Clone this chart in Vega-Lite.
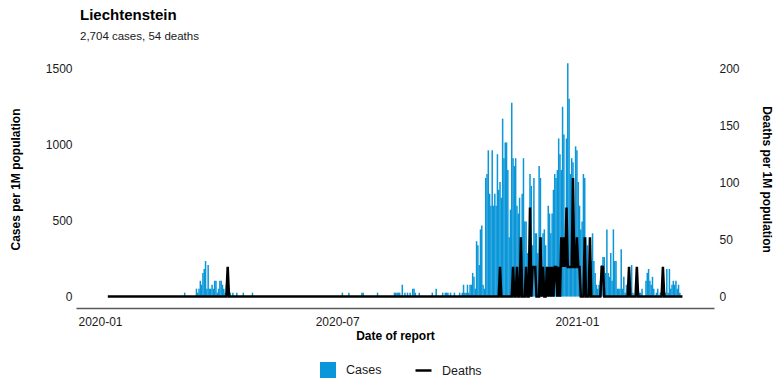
{
  "$schema": "https://vega.github.io/schema/vega-lite/v6.json",
  "width": 638,
  "height": 258,
  "autosize": {"type": "none"},
  "padding": {"left": 76, "top": 50, "right": 70, "bottom": 84},
  "background": "white",
  "title": {
    "text": "Liechtenstein",
    "subtitle": "2,704 cases, 54 deaths",
    "anchor": "start",
    "frame": "group",
    "dx": 4,
    "offset": 8,
    "fontSize": 15,
    "fontWeight": "bold",
    "color": "#000000",
    "subtitleFontSize": 11.5,
    "subtitleColor": "#1a1a1a",
    "subtitlePadding": 8
  },
  "datasets": {
    "cases": [
      {"date":"2020-03-06","cases":26.1},{"date":"2020-03-15","cases":52.1},{"date":"2020-03-16","cases":26.1},{"date":"2020-03-17","cases":52.1},{"date":"2020-03-18","cases":104.2},{"date":"2020-03-19","cases":78.2},{"date":"2020-03-20","cases":156.4},{"date":"2020-03-21","cases":182.4},{"date":"2020-03-22","cases":234.5},{"date":"2020-03-23","cases":52.1},{"date":"2020-03-24","cases":208.5},{"date":"2020-03-25","cases":52.1},{"date":"2020-03-26","cases":52.1},{"date":"2020-03-27","cases":78.2},{"date":"2020-03-28","cases":52.1},{"date":"2020-03-29","cases":104.2},{"date":"2020-03-30","cases":104.2},{"date":"2020-03-31","cases":26.1},{"date":"2020-04-01","cases":52.1},{"date":"2020-04-02","cases":104.2},{"date":"2020-04-03","cases":104.2},{"date":"2020-04-04","cases":78.2},{"date":"2020-04-05","cases":52.1},{"date":"2020-04-06","cases":26.1},{"date":"2020-04-07","cases":78.2},
      {"date":"2020-04-10","cases":26.1},{"date":"2020-04-12","cases":26.1},{"date":"2020-04-15","cases":26.1},{"date":"2020-04-20","cases":26.1},{"date":"2020-04-27","cases":26.1},
      {"date":"2020-07-05","cases":26.1},{"date":"2020-07-10","cases":26.1},{"date":"2020-07-20","cases":26.1},{"date":"2020-07-21","cases":26.1},{"date":"2020-08-01","cases":26.1},{"date":"2020-08-14","cases":26.1},{"date":"2020-08-15","cases":26.1},{"date":"2020-08-16","cases":26.1},{"date":"2020-08-17","cases":26.1},{"date":"2020-08-18","cases":26.1},{"date":"2020-08-20","cases":78.2},{"date":"2020-08-22","cases":26.1},{"date":"2020-08-24","cases":26.1},{"date":"2020-08-26","cases":26.1},{"date":"2020-08-28","cases":52.1},{"date":"2020-08-29","cases":52.1},{"date":"2020-08-30","cases":26.1},{"date":"2020-09-02","cases":26.1},{"date":"2020-09-12","cases":26.1},{"date":"2020-09-15","cases":52.1},{"date":"2020-09-20","cases":26.1},{"date":"2020-09-22","cases":26.1},{"date":"2020-09-23","cases":26.1},{"date":"2020-09-24","cases":26.1},{"date":"2020-09-26","cases":26.1},{"date":"2020-09-29","cases":26.1},
      {"date":"2020-10-03","cases":26.1},{"date":"2020-10-05","cases":26.1},{"date":"2020-10-06","cases":78.2},{"date":"2020-10-07","cases":26.1},{"date":"2020-10-08","cases":26.1},{"date":"2020-10-09","cases":78.2},{"date":"2020-10-10","cases":26.1},{"date":"2020-10-11","cases":78.2},{"date":"2020-10-12","cases":78.2},{"date":"2020-10-13","cases":156.4},{"date":"2020-10-14","cases":130.3},{"date":"2020-10-15","cases":52.1},{"date":"2020-10-16","cases":364.8},{"date":"2020-10-17","cases":338.8},{"date":"2020-10-18","cases":208.5},{"date":"2020-10-19","cases":443.0},{"date":"2020-10-20","cases":469.1},{"date":"2020-10-21","cases":78.2},{"date":"2020-10-22","cases":52.1},{"date":"2020-10-23","cases":781.8},{"date":"2020-10-24","cases":807.9},{"date":"2020-10-25","cases":964.2},{"date":"2020-10-26","cases":677.6},{"date":"2020-10-27","cases":599.4},{"date":"2020-10-28","cases":964.2},{"date":"2020-10-29","cases":599.4},{"date":"2020-10-30","cases":677.6},{"date":"2020-10-31","cases":599.4},
      {"date":"2020-11-01","cases":938.2},{"date":"2020-11-02","cases":703.6},{"date":"2020-11-03","cases":755.7},{"date":"2020-11-04","cases":651.5},{"date":"2020-11-05","cases":1172.7},{"date":"2020-11-06","cases":912.1},{"date":"2020-11-07","cases":1016.3},{"date":"2020-11-08","cases":1016.3},{"date":"2020-11-09","cases":833.9},{"date":"2020-11-10","cases":390.9},{"date":"2020-11-11","cases":573.3},{"date":"2020-11-12","cases":1276.9},{"date":"2020-11-13","cases":912.1},{"date":"2020-11-14","cases":860.0},{"date":"2020-11-15","cases":912.1},{"date":"2020-11-16","cases":599.4},{"date":"2020-11-17","cases":547.3},{"date":"2020-11-18","cases":651.5},{"date":"2020-11-19","cases":390.9},{"date":"2020-11-20","cases":677.6},{"date":"2020-11-21","cases":912.1},{"date":"2020-11-22","cases":495.1},{"date":"2020-11-23","cases":495.1},{"date":"2020-11-24","cases":286.7},{"date":"2020-11-25","cases":286.7},{"date":"2020-11-26","cases":807.9},{"date":"2020-11-27","cases":729.7},{"date":"2020-11-28","cases":338.8},{"date":"2020-11-29","cases":781.8},{"date":"2020-11-30","cases":417.0},
      {"date":"2020-12-01","cases":417.0},{"date":"2020-12-02","cases":286.7},{"date":"2020-12-03","cases":860.0},{"date":"2020-12-04","cases":781.8},{"date":"2020-12-05","cases":390.9},{"date":"2020-12-06","cases":417.0},{"date":"2020-12-07","cases":443.0},{"date":"2020-12-08","cases":338.8},{"date":"2020-12-10","cases":599.4},{"date":"2020-12-11","cases":547.3},{"date":"2020-12-12","cases":417.0},{"date":"2020-12-13","cases":547.3},{"date":"2020-12-14","cases":703.6},{"date":"2020-12-15","cases":807.9},{"date":"2020-12-16","cases":781.8},{"date":"2020-12-17","cases":833.9},{"date":"2020-12-18","cases":1042.4},{"date":"2020-12-19","cases":938.2},{"date":"2020-12-20","cases":833.9},{"date":"2020-12-21","cases":1250.9},{"date":"2020-12-22","cases":1068.5},{"date":"2020-12-23","cases":312.7},{"date":"2020-12-24","cases":1042.4},{"date":"2020-12-25","cases":1537.5},{"date":"2020-12-26","cases":1303.0},{"date":"2020-12-27","cases":807.9},{"date":"2020-12-28","cases":912.1},{"date":"2020-12-29","cases":886.0},{"date":"2020-12-30","cases":390.9},{"date":"2020-12-31","cases":990.3},
      {"date":"2021-01-01","cases":964.2},{"date":"2021-01-02","cases":755.7},{"date":"2021-01-03","cases":599.4},{"date":"2021-01-04","cases":443.0},{"date":"2021-01-05","cases":495.1},{"date":"2021-01-06","cases":807.9},{"date":"2021-01-07","cases":781.8},{"date":"2021-01-08","cases":390.9},{"date":"2021-01-09","cases":338.8},{"date":"2021-01-10","cases":104.2},{"date":"2021-01-11","cases":260.6},{"date":"2021-01-12","cases":234.5},{"date":"2021-01-13","cases":417.0},{"date":"2021-01-14","cases":234.5},{"date":"2021-01-15","cases":156.4},{"date":"2021-01-16","cases":78.2},{"date":"2021-01-17","cases":52.1},{"date":"2021-01-18","cases":78.2},{"date":"2021-01-19","cases":104.2},{"date":"2021-01-20","cases":208.5},{"date":"2021-01-21","cases":260.6},{"date":"2021-01-22","cases":260.6},{"date":"2021-01-23","cases":156.4},{"date":"2021-01-24","cases":443.0},{"date":"2021-01-25","cases":156.4},{"date":"2021-01-26","cases":130.3},{"date":"2021-01-27","cases":286.7},{"date":"2021-01-28","cases":104.2},{"date":"2021-01-29","cases":443.0},{"date":"2021-01-30","cases":234.5},{"date":"2021-01-31","cases":234.5},
      {"date":"2021-02-01","cases":52.1},{"date":"2021-02-02","cases":52.1},{"date":"2021-02-03","cases":52.1},{"date":"2021-02-04","cases":312.7},{"date":"2021-02-05","cases":52.1},{"date":"2021-02-06","cases":130.3},{"date":"2021-02-07","cases":26.1},{"date":"2021-02-08","cases":78.2},{"date":"2021-02-09","cases":26.1},{"date":"2021-02-10","cases":52.1},{"date":"2021-02-12","cases":208.5},{"date":"2021-02-13","cases":26.1},{"date":"2021-02-16","cases":26.1},{"date":"2021-02-17","cases":26.1},{"date":"2021-02-18","cases":26.1},{"date":"2021-02-19","cases":26.1},{"date":"2021-02-20","cases":52.1},{"date":"2021-02-23","cases":104.2},{"date":"2021-02-24","cases":156.4},{"date":"2021-02-25","cases":182.4},{"date":"2021-02-26","cases":104.2},{"date":"2021-02-27","cases":78.2},{"date":"2021-02-28","cases":130.3},
      {"date":"2021-03-01","cases":52.1},{"date":"2021-03-03","cases":26.1},{"date":"2021-03-04","cases":52.1},{"date":"2021-03-06","cases":26.1},{"date":"2021-03-08","cases":52.1},{"date":"2021-03-10","cases":26.1},{"date":"2021-03-11","cases":182.4},{"date":"2021-03-12","cases":26.1},{"date":"2021-03-13","cases":182.4},{"date":"2021-03-14","cases":52.1},{"date":"2021-03-15","cases":78.2},{"date":"2021-03-16","cases":104.2},{"date":"2021-03-17","cases":78.2},{"date":"2021-03-18","cases":104.2},{"date":"2021-03-19","cases":52.1},{"date":"2021-03-20","cases":78.2},{"date":"2021-03-21","cases":26.1}
    ],
    "deaths": [
      {"date":"2020-01-07","deaths":0},{"date":"2020-04-07","deaths":0},{"date":"2020-04-08","deaths":26.1},{"date":"2020-04-09","deaths":0},
      {"date":"2020-11-02","deaths":0},{"date":"2020-11-03","deaths":26.1},{"date":"2020-11-04","deaths":0},{"date":"2020-11-12","deaths":0},{"date":"2020-11-13","deaths":26.1},{"date":"2020-11-14","deaths":0},{"date":"2020-11-15","deaths":0},{"date":"2020-11-16","deaths":26.1},{"date":"2020-11-17","deaths":0},{"date":"2020-11-18","deaths":0},{"date":"2020-11-19","deaths":52.1},{"date":"2020-11-20","deaths":0},{"date":"2020-11-22","deaths":0},{"date":"2020-11-23","deaths":26.1},{"date":"2020-11-24","deaths":0},{"date":"2020-11-25","deaths":0},{"date":"2020-11-26","deaths":78.2},{"date":"2020-11-27","deaths":0},{"date":"2020-11-28","deaths":26.1},{"date":"2020-11-29","deaths":26.1},{"date":"2020-11-30","deaths":26.1},
      {"date":"2020-12-01","deaths":0},{"date":"2020-12-03","deaths":0},{"date":"2020-12-04","deaths":52.1},{"date":"2020-12-05","deaths":0},{"date":"2020-12-06","deaths":26.1},{"date":"2020-12-07","deaths":0},{"date":"2020-12-08","deaths":0},{"date":"2020-12-09","deaths":26.1},{"date":"2020-12-10","deaths":0},{"date":"2020-12-11","deaths":26.1},{"date":"2020-12-12","deaths":0},{"date":"2020-12-13","deaths":26.1},{"date":"2020-12-14","deaths":0},{"date":"2020-12-15","deaths":26.1},{"date":"2020-12-16","deaths":26.1},{"date":"2020-12-17","deaths":0},{"date":"2020-12-18","deaths":26.1},{"date":"2020-12-19","deaths":0},{"date":"2020-12-20","deaths":52.1},{"date":"2020-12-21","deaths":26.1},{"date":"2020-12-22","deaths":52.1},{"date":"2020-12-23","deaths":26.1},{"date":"2020-12-24","deaths":78.2},{"date":"2020-12-25","deaths":26.1},{"date":"2020-12-26","deaths":26.1},{"date":"2020-12-27","deaths":26.1},{"date":"2020-12-28","deaths":26.1},{"date":"2020-12-29","deaths":104.2},{"date":"2020-12-30","deaths":26.1},{"date":"2020-12-31","deaths":26.1},
      {"date":"2021-01-01","deaths":52.1},{"date":"2021-01-02","deaths":26.1},{"date":"2021-01-03","deaths":26.1},{"date":"2021-01-04","deaths":0},{"date":"2021-01-06","deaths":0},{"date":"2021-01-07","deaths":52.1},{"date":"2021-01-08","deaths":0},{"date":"2021-01-10","deaths":0},{"date":"2021-01-11","deaths":52.1},{"date":"2021-01-12","deaths":0},{"date":"2021-01-19","deaths":0},{"date":"2021-01-20","deaths":26.1},{"date":"2021-01-21","deaths":26.1},{"date":"2021-01-22","deaths":0},
      {"date":"2021-02-09","deaths":0},{"date":"2021-02-10","deaths":26.1},{"date":"2021-02-11","deaths":0},{"date":"2021-02-15","deaths":0},{"date":"2021-02-16","deaths":26.1},{"date":"2021-02-17","deaths":0},{"date":"2021-03-07","deaths":0},{"date":"2021-03-08","deaths":26.1},{"date":"2021-03-09","deaths":0},{"date":"2021-03-23","deaths":0}
    ]
  },
  "layer": [
    {
      "data": {"name": "cases"},
      "mark": {"type": "bar", "size": 1.5, "clip": true},
      "encoding": {
        "x": {
          "field": "date", "type": "temporal",
          "scale": {"type": "utc", "nice": false, "padding": 0, "domain": [{"year": 2019, "month": 12, "date": 13, "hours": 14, "utc": true}, {"year": 2021, "month": 4, "date": 16, "hours": 5, "utc": true}]},
          "axis": {
            "title": "Date of report",
            "values": [{"year": 2020, "month": 1, "date": 1, "utc": true}, {"year": 2020, "month": 7, "date": 1, "utc": true}, {"year": 2021, "month": 1, "date": 1, "utc": true}],
            "labelExpr": "utcFormat(datum.value, '%Y-%m')",
            "grid": false, "ticks": false, "tickSize": 0,
            "domain": true, "domainColor": "#5a5a5a", "domainWidth": 1.6,
            "labelPadding": 8, "labelFontSize": 12, "labelColor": "#1a1a1a",
            "titlePadding": 3, "titleFontSize": 12, "titleFontWeight": "bold", "titleColor": "#000000"
          }
        },
        "y": {
          "field": "cases", "type": "quantitative",
          "scale": {"domain": [-75, 1625], "nice": false, "zero": false},
          "axis": {
            "title": "Cases per 1M population",
            "values": [0, 500, 1000, 1500],
            "format": "d",
            "grid": false, "ticks": false, "domain": false,
            "labelPadding": 4, "labelFontSize": 12, "labelColor": "#1a1a1a",
            "titlePadding": 23, "titleFontSize": 12, "titleFontWeight": "bold", "titleColor": "#000000"
          }
        },
        "fill": {
          "datum": "Cases", "type": "nominal",
          "scale": {"range": ["#0a96d8"]},
          "legend": {"orient": "none", "legendX": 243, "legendY": 311, "title": null, "symbolType": "square", "symbolSize": 256, "labelFontSize": 12.5, "labelOffset": 9, "labelColor": "#1a1a1a"}
        }
      }
    },
    {
      "data": {"name": "deaths"},
      "mark": {"type": "line", "strokeWidth": 2.5, "clip": true},
      "encoding": {
        "x": {"field": "date", "type": "temporal"},
        "y": {
          "field": "deaths", "type": "quantitative",
          "scale": {"domain": [-10, 216.67], "nice": false, "zero": false},
          "axis": {
            "orient": "right",
            "title": "Deaths per 1M population",
            "values": [0, 50, 100, 150, 200],
            "format": "d",
            "grid": false, "ticks": false, "domain": false,
            "labelPadding": 5, "labelFontSize": 12, "labelColor": "#1a1a1a",
            "titlePadding": 20, "titleFontSize": 12, "titleFontWeight": "bold", "titleColor": "#000000"
          }
        },
        "stroke": {
          "datum": "Deaths", "type": "nominal",
          "scale": {"range": ["#000000"]},
          "legend": {"orient": "none", "legendX": 338, "legendY": 311, "title": null, "symbolType": "stroke", "symbolSize": 256, "symbolStrokeWidth": 2.5, "labelFontSize": 12.5, "labelOffset": 9, "labelColor": "#1a1a1a"}
        }
      }
    }
  ],
  "resolve": {"scale": {"y": "independent"}},
  "config": {
    "font": "Liberation Sans",
    "view": {"stroke": null}
  }
}
